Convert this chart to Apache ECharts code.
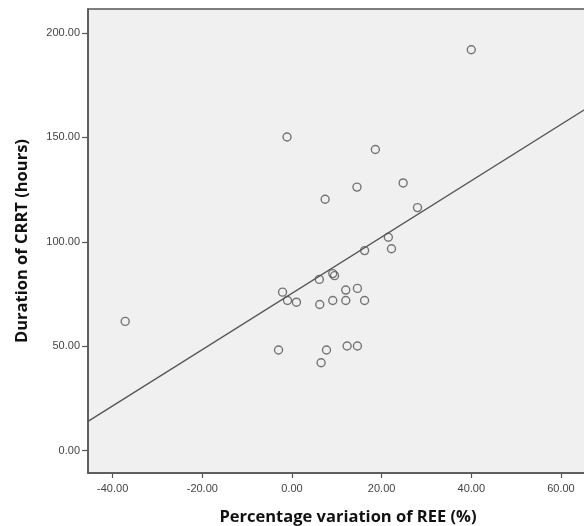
<!DOCTYPE html>
<html>
<head>
<meta charset="utf-8">
<script src="https://cdn.jsdelivr.net/npm/echarts@6/dist/echarts.min.js"></script>
<style>
  html, body { margin: 0; padding: 0; background: #fff; }
  #chart { width: 584px; height: 526px; }
</style>
</head>
<body>
<div id="chart"></div>
<script>
// percentage variation of REE (%)
var reeVariation = [40.0, -1.1, 18.6, 14.5, 7.4, 24.8, 28.0, 21.5, 22.2, 16.2,
    9.1, 9.5, 6.1, -2.1, -1.0, 1.0, 6.2, 9.1, 12.0, 12.0, 14.6, 16.2,
    -3.0, 7.7, 6.5, 12.3, 14.6, -37.2];
// duration of CRRT (hours)
var crrtHours = [192.0, 150.2, 144.2, 126.2, 120.4, 128.2, 116.4, 102.2, 96.7, 95.8,
    84.8, 83.8, 82.0, 75.9, 71.9, 71.1, 70.0, 71.9, 71.9, 76.9, 77.7, 71.9,
    48.2, 48.2, 42.1, 50.1, 50.1, 61.9];
// fitted line, read at both ends of the plot
var fitX = [-45.5, 70.5];
var fitY = [14.0, 170.3];
var yTicks = [0, 50, 100, 150, 200];
var xTicks = [-40, -20, 0, 20, 40, 60];

var points = reeVariation.map(function (x, i) { return [x, crrtHours[i]]; });
var fitPoints = fitX.map(function (x, i) { return [x, fitY[i]]; });

var chart = echarts.init(document.getElementById('chart'));
var labelStyle = { color: '#444', fontSize: 11, fontFamily: 'Liberation Sans' };
var titleStyle = { color: '#111', fontSize: 16.5, fontWeight: 'bold', fontFamily: 'Open Sans' };

chart.setOption({
    animation: false,
    grid: { left: 88, top: 9, width: 520, height: 464, outerBoundsMode: 'none',
        containLabel: false, show: true,
        backgroundColor: '#f0f0f0', borderColor: '#555', borderWidth: 1.5 },
    xAxis: {
        type: 'value', min: -45.5, max: 70.5,
        name: 'Percentage variation of REE (%)', nameLocation: 'middle', nameGap: 36,
        nameTextStyle: titleStyle,
        axisLine: { onZero: false, lineStyle: { color: '#555', width: 1.5 } },
        axisTick: { show: true, length: 5, lineStyle: { color: '#555', width: 1.2 },
            customValues: xTicks },
        axisLabel: Object.assign({ customValues: xTicks, margin: 10,
            formatter: function (v) { return v.toFixed(2); } }, labelStyle),
        splitLine: { show: false }
    },
    yAxis: {
        type: 'value', min: -10.7, max: 211.5,
        name: 'Duration of CRRT (hours)', nameLocation: 'middle', nameGap: 57,
        nameTextStyle: titleStyle,
        axisLine: { onZero: false, lineStyle: { color: '#555', width: 1.5 } },
        axisTick: { show: true, length: 6, lineStyle: { color: '#555', width: 1.2 },
            customValues: yTicks },
        axisLabel: Object.assign({ customValues: yTicks, margin: 8,
            formatter: function (v) { return v.toFixed(2); } }, labelStyle),
        splitLine: { show: false }
    },
    series: [
        {
            type: 'line', data: fitPoints, symbol: 'none', silent: true,
            lineStyle: { color: '#555', width: 1.3 }
        },
        {
            type: 'scatter', data: points, symbol: 'circle', symbolSize: 8,
            itemStyle: { color: 'rgba(0,0,0,0)', borderColor: '#555', borderWidth: 1.4 }
        }
    ]
});
</script>
</body>
</html>
